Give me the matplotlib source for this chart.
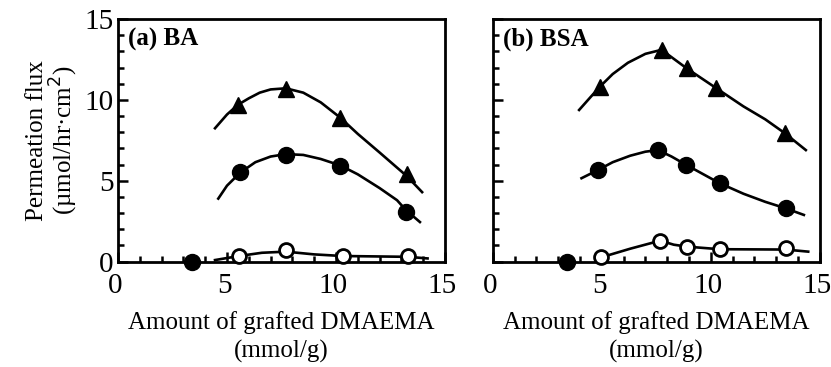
import numpy as np
import matplotlib.pyplot as plt
from matplotlib.ticker import MultipleLocator
from matplotlib.transforms import ScaledTranslation

plt.rcParams['font.family'] = ['Liberation Serif', 'DejaVu Serif']

# (a) BA - measured points
ba_tri_x = [5.5, 7.7, 10.2, 13.24]
ba_tri_y = [9.7, 10.7, 8.9, 5.45]
ba_fill_x = [5.6, 7.7, 10.2, 13.2]
ba_fill_y = [5.55, 6.6, 5.93, 3.1]
ba_open_x = [5.55, 7.7, 10.3, 13.3]
ba_open_y = [0.35, 0.72, 0.35, 0.35]

# (a) BA - fitted curves
ba_tri_cx = [4.45, 5.0, 5.5, 6.0, 6.5, 7.0, 7.7, 8.5, 9.3, 10.2, 11.0, 12.0, 13.24, 13.95]
ba_tri_cy = [8.25, 9.1, 9.7, 10.1, 10.45, 10.65, 10.72, 10.45, 9.85, 8.9, 7.9, 6.75, 5.3, 4.3]
ba_fill_cx = [4.6, 5.0, 5.6, 6.3, 7.0, 7.7, 8.5, 9.3, 10.2, 11.0, 12.0, 12.8, 13.2, 13.85]
ba_fill_cy = [3.9, 4.7, 5.5, 6.15, 6.5, 6.65, 6.6, 6.35, 5.95, 5.4, 4.55, 3.8, 3.2, 2.45]
ba_open_cx = [4.45, 5.55, 6.6, 7.7, 9.0, 10.3, 13.3, 14.2]
ba_open_cy = [0.1, 0.35, 0.55, 0.62, 0.45, 0.35, 0.3, 0.2]

# (b) BSA - measured points
bsa_tri_x = [4.9, 7.74, 8.9, 10.26, 13.4]
bsa_tri_y = [10.8, 13.1, 11.96, 10.72, 7.94]
bsa_fill_x = [4.83, 7.58, 8.88, 10.41, 13.43]
bsa_fill_y = [5.67, 6.9, 5.98, 4.85, 3.3]
bsa_open_x = [4.98, 7.68, 8.9, 10.41, 13.43]
bsa_open_y = [0.27, 1.3, 0.93, 0.77, 0.83]

# (b) BSA - fitted curves
bsa_tri_cx = [3.96, 4.5, 4.9, 5.5, 6.2, 7.0, 7.74, 8.9, 10.26, 11.5, 12.5, 13.4, 14.36]
bsa_tri_cy = [9.38, 10.2, 10.8, 11.6, 12.3, 12.85, 13.1, 11.95, 10.72, 9.6, 8.8, 7.94, 6.9]
bsa_fill_cx = [4.07, 4.83, 5.5, 6.3, 7.0, 7.58, 8.2, 8.88, 10.41, 11.5, 12.5, 13.43, 14.27]
bsa_fill_cy = [5.16, 5.67, 6.15, 6.55, 6.8, 6.9, 6.5, 5.98, 4.85, 4.2, 3.7, 3.3, 2.89]
bsa_open_cx = [4.98, 6.3, 7.68, 8.3, 8.9, 10.41, 13.43, 14.47]
bsa_open_cy = [0.27, 0.8, 1.3, 1.05, 0.93, 0.77, 0.75, 0.62]

# zero-graft membrane
zero_x = [3.4]
zero_y = [0.0]

fig = plt.figure(figsize=(8.31, 3.67), dpi=100)
ax1 = fig.add_axes([0.142, 0.287, 0.3935, 0.661])
ax2 = fig.add_axes([0.593, 0.287, 0.3935, 0.661])


def draw_panel(ax, label, tri, fill, opn, tri_c, fill_c, open_c):
    lw = 1.9
    ax.plot(*tri_c, color='black', lw=lw, zorder=2)
    ax.plot(*fill_c, color='black', lw=lw, zorder=2)
    ax.plot(*open_c, color='black', lw=lw, zorder=2)
    ax.plot(*tri, ls='none', marker='^', ms=12, color='black', zorder=3, clip_on=False)
    ax.plot(*fill, ls='none', marker='o', ms=11.5, color='black', zorder=3, clip_on=False)
    ax.plot(*opn, ls='none', marker='o', ms=10, mfc='white', mec='black', mew=2,
            zorder=3, clip_on=False)
    ax.plot(zero_x, zero_y, ls='none', marker='o', ms=11.5, color='black', zorder=4,
            clip_on=False)

    ax.set_xlim(0, 15)
    ax.set_ylim(0, 15)
    ax.xaxis.set_major_locator(MultipleLocator(5))
    ax.xaxis.set_minor_locator(MultipleLocator(1))
    ax.yaxis.set_major_locator(MultipleLocator(5))
    ax.yaxis.set_minor_locator(MultipleLocator(1))
    ax.tick_params(which='both', direction='in', top=False, right=False, width=1.8)
    ax.tick_params(which='major', length=7, labelsize=21)
    ax.tick_params(axis='x', which='major', pad=8)
    ax.tick_params(axis='y', which='major', pad=3)
    ax.tick_params(which='minor', length=4.5)
    # x tick numbers sit slightly left of their ticks
    shift = ScaledTranslation(-2 / 72, 0, fig.dpi_scale_trans)
    for lab in ax.get_xticklabels():
        lab.set_transform(lab.get_transform() + shift)
    for sp in ax.spines.values():
        sp.set_linewidth(2)
    ax.text(0.03, 0.965, label, transform=ax.transAxes, ha='left', va='top',
            fontsize=18, fontweight='bold')
    ax.set_xlabel('Amount of grafted DMAEMA\n(mmol/g)', fontsize=18, labelpad=9,
                  linespacing=1.3)


draw_panel(ax1, '(a) BA', (ba_tri_x, ba_tri_y), (ba_fill_x, ba_fill_y),
           (ba_open_x, ba_open_y), (ba_tri_cx, ba_tri_cy),
           (ba_fill_cx, ba_fill_cy), (ba_open_cx, ba_open_cy))
draw_panel(ax2, '(b) BSA', (bsa_tri_x, bsa_tri_y), (bsa_fill_x, bsa_fill_y),
           (bsa_open_x, bsa_open_y), (bsa_tri_cx, bsa_tri_cy),
           (bsa_fill_cx, bsa_fill_cy), (bsa_open_cx, bsa_open_cy))
ax2.set_yticklabels([])

ax1.set_ylabel('Permeation flux\n(µmol/hr·cm$^2$)', fontsize=18, labelpad=3,
               linespacing=1.0)

fig.savefig('out.png', dpi=100)
